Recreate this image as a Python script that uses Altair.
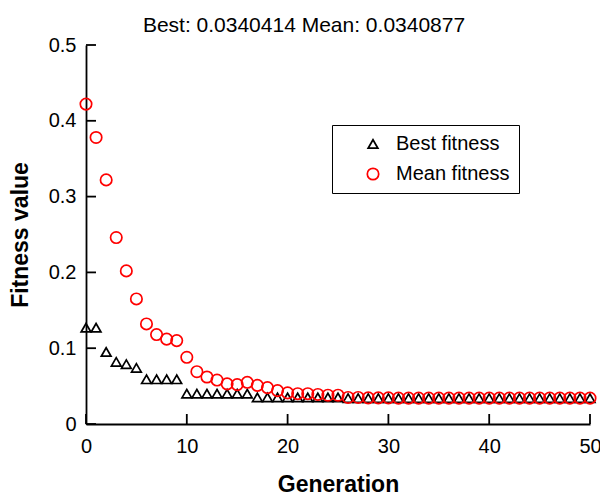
import altair as alt
import pandas as pd

generations = list(range(51))
best_fitness = [0.127, 0.127, 0.095, 0.082, 0.079, 0.074, 0.059, 0.059, 0.059, 0.059,
                0.040, 0.040, 0.040, 0.040, 0.040, 0.040, 0.040, 0.035, 0.035, 0.035,
                0.035, 0.035, 0.035, 0.035, 0.035, 0.035, 0.0341, 0.0341, 0.0341, 0.0341,
                0.0341, 0.0341, 0.0341, 0.0341, 0.0341, 0.0341, 0.0341, 0.0341, 0.0341, 0.0341,
                0.0341, 0.0341, 0.0341, 0.0341, 0.0341, 0.0341, 0.0341, 0.0341, 0.0341, 0.0341,
                0.0340]
mean_fitness = [0.422, 0.378, 0.322, 0.246, 0.202, 0.165, 0.132, 0.118, 0.112, 0.110,
                0.088, 0.069, 0.062, 0.058, 0.053, 0.052, 0.055, 0.051, 0.048, 0.044,
                0.041, 0.040, 0.040, 0.039, 0.038, 0.038, 0.035, 0.035, 0.0345, 0.0345,
                0.0345, 0.0341, 0.0341, 0.0341, 0.0341, 0.0341, 0.0341, 0.0341, 0.0341, 0.0341,
                0.0341, 0.0341, 0.0341, 0.0341, 0.0341, 0.0341, 0.0341, 0.0341, 0.0341, 0.0341,
                0.0341]
series_names = ["Best fitness", "Mean fitness"]
x_tick_values = [0, 10, 20, 30, 40, 50]
y_tick_values = [0, 0.1, 0.2, 0.3, 0.4, 0.5]
title_text = "Best: 0.0340414 Mean: 0.0340877"

rows = []
for g, v in zip(generations, best_fitness):
    rows.append({"gen": g, "value": v, "series": series_names[0]})
for g, v in zip(generations, mean_fitness):
    rows.append({"gen": g, "value": v, "series": series_names[1]})
df = pd.DataFrame(rows)

FONT = "Liberation Sans"
W, H = 504, 379

x_scale = alt.Scale(domain=[0, 50], nice=False, zero=False)
y_scale = alt.Scale(domain=[0, 0.5], nice=False)

legend = alt.Legend(title=None, orient="none", legendX=246, legendY=80,
                    strokeColor="black", padding=9, rowPadding=10,
                    labelFontSize=20, symbolOffset=22, labelOffset=13,
                    symbolStrokeWidth=1.7, symbolSize=110)

points = alt.Chart(df).mark_point(filled=False, strokeWidth=1.7, opacity=1).encode(
    x=alt.X("gen:Q", scale=x_scale,
            axis=alt.Axis(values=x_tick_values, ticks=False, grid=False, labelPadding=12,
                          labelFontSize=20, title="Generation", titleFontSize=23,
                          titleFontWeight="bold", titlePadding=17, labelFlush=False)),
    y=alt.Y("value:Q", scale=y_scale,
            axis=alt.Axis(values=y_tick_values, ticks=False, grid=False, labelPadding=10,
                          format="~g", labelFontSize=20, title="Fitness value",
                          titleFontSize=23, titleFontWeight="bold", titlePadding=16,
                          labelFlush=False)),
    shape=alt.Shape("series:N", scale=alt.Scale(domain=series_names, range=["triangle-up", "circle"]),
                    legend=legend),
    color=alt.Color("series:N", scale=alt.Scale(domain=series_names, range=["black", "#ff0000"]),
                    legend=legend),
    size=alt.Size("series:N", scale=alt.Scale(domain=series_names, range=[95, 130]), legend=None),
    order=alt.Order("series:N"),
)

# Inward ticks drawn as short rules, placed through the shared scales.
n_x = len(x_tick_values)
n_y = len(y_tick_values)
xt_df = pd.DataFrame({"xv": x_tick_values, "yb": [0.0] * n_x, "yt": [0.0132] * n_x})
yt_df = pd.DataFrame({"yv": y_tick_values, "xb": [0.0] * n_y, "xt": [0.99] * n_y})

x_ticks = alt.Chart(xt_df).mark_rule(strokeWidth=1.8, color="#000000", opacity=1).encode(
    x=alt.X("xv:Q", scale=x_scale),
    y=alt.Y("yb:Q", scale=y_scale),
    y2=alt.Y2("yt:Q"),
)
y_ticks = alt.Chart(yt_df).mark_rule(strokeWidth=1.8, color="#000000", opacity=1).encode(
    y=alt.Y("yv:Q", scale=y_scale),
    x=alt.X("xb:Q", scale=x_scale),
    x2=alt.X2("xt:Q"),
)

chart = alt.layer(points, x_ticks, y_ticks).properties(
    width=W, height=H,
    autosize=alt.AutoSizeParams(type="none"),
    padding={"left": 78, "top": 37, "right": 10, "bottom": 85},
    title=alt.TitleParams(title_text, fontSize=21, fontWeight="normal", font=FONT,
                          anchor="middle", dx=-34, offset=0, dy=1, color="black"),
).configure_view(stroke=None).configure_axis(
    domainColor="black", domainWidth=1.8, labelColor="black", titleColor="black",
    labelFont=FONT, titleFont=FONT
).configure_legend(labelFont=FONT, labelColor="black")

chart.save("out.html", embed_options={"renderer": "svg", "actions": False})
